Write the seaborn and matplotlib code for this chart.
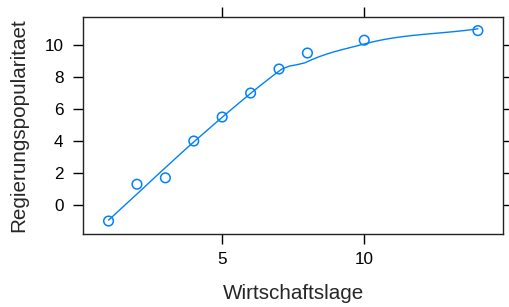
import numpy as np
import pandas as pd
import seaborn as sns
import matplotlib
matplotlib.use('Agg')
import matplotlib.pyplot as plt

# Data
wirtschaft = [1, 2, 3, 4, 5, 6, 7, 8, 10, 14]
popularitaet = [-1.0, 1.3, 1.7, 4.0, 5.5, 7.0, 8.5, 9.5, 10.3, 10.9]
x_ticks = [5, 10]
y_ticks = [0, 2, 4, 6, 8, 10]

blau = '#0080ff'


# loess smoother like lattice panel.loess (span 2/3, degree 1, symmetric),
# with R's kd-tree vertices + cubic Hermite interpolation
def lokal_fit(x, y, x0, rw, q):
    dist = np.abs(x - x0)
    d = np.sort(dist)[q - 1]
    u = np.clip(dist / d, 0, 1)
    w = (1 - u ** 3) ** 3 * rw
    X = np.column_stack([np.ones(len(x)), x - x0])
    W = np.diag(w)
    beta = np.linalg.pinv(X.T @ W @ X) @ X.T @ W @ y
    return beta[0], beta[1]


def kd_ecken(x, fc):
    xs = np.sort(x)
    mu = 0.005 * (xs[-1] - xs[0])
    ecken = {xs[0] - mu, xs[-1] + mu}

    def teile(l, u, lo, hi):
        if u - l + 1 <= fc:
            return
        m = (l + u) // 2
        v = xs[m]
        if v == lo or v == hi:
            return
        ecken.add(v)
        teile(l, m, lo, v)
        teile(m + 1, u, v, hi)

    teile(0, len(xs) - 1, ecken_min := xs[0] - mu, xs[-1] + mu)
    return np.array(sorted(ecken))


def hermite(ecken, werte, steig, xs):
    out = []
    for x0 in xs:
        j = np.clip(np.searchsorted(ecken, x0) - 1, 0, len(ecken) - 2)
        h = ecken[j + 1] - ecken[j]
        t = (x0 - ecken[j]) / h
        h00 = 2 * t ** 3 - 3 * t ** 2 + 1
        h10 = t ** 3 - 2 * t ** 2 + t
        h01 = -2 * t ** 3 + 3 * t ** 2
        h11 = t ** 3 - t ** 2
        out.append(h00 * werte[j] + h10 * h * steig[j]
                   + h01 * werte[j + 1] + h11 * h * steig[j + 1])
    return np.array(out)


def loess(x, y, xs, span=2/3, iterations=4):
    x = np.asarray(x, float)
    y = np.asarray(y, float)
    n = len(x)
    q = int(np.floor(n * span))
    fc = int(np.floor(n * span * 0.2))
    ecken = kd_ecken(x, fc)
    rob = np.ones(n)
    for it in range(iterations):
        fits = [lokal_fit(x, y, e, rob, q) for e in ecken]
        werte = np.array([f[0] for f in fits])
        steig = np.array([f[1] for f in fits])
        if it < iterations - 1:
            res = y - hermite(ecken, werte, steig, x)
            s = 6 * np.median(np.abs(res))
            u = np.clip(res / s, -1, 1)
            rob = (1 - u ** 2) ** 2
    return hermite(ecken, werte, steig, xs)


df = pd.DataFrame({'Wirtschaftslage': wirtschaft,
                   'Regierungspopularitaet': popularitaet})
xs = np.linspace(min(wirtschaft), max(wirtschaft), 50)
glatt = pd.DataFrame({'x': xs, 'y': loess(wirtschaft, popularitaet, xs)})

sns.set_style('ticks')
plt.rcParams['font.family'] = ['Liberation Sans', 'DejaVu Sans']

fig = plt.figure(figsize=(5.1, 3.07), dpi=100)
ax = fig.add_axes([0.1627, 0.2378, 0.8245, 0.7068])

sns.lineplot(data=glatt, x='x', y='y', color=blau, linewidth=1, ax=ax)
sns.scatterplot(data=df, x='Wirtschaftslage', y='Regierungspopularitaet',
                marker='o', s=48, facecolor='none', edgecolor=blau,
                linewidth=1.1, ax=ax)

ax.set_xlim(0.1, 14.9)
ax.set_ylim(-1.81, 11.75)
ax.set_xticks(x_ticks)
ax.set_yticks(y_ticks)
ax.tick_params(axis='both', direction='out', length=7.5, width=1, colors='black',
               labelsize=12.3, top=True, right=True)
ax.tick_params(axis='x', pad=5.5)
ax.tick_params(axis='y', pad=6.5)
for s in ax.spines.values():
    s.set_visible(True)
    s.set_color('#222222')
    s.set_linewidth(1)

ax.set_xlabel('Wirtschaftslage', fontsize=14.9)
ax.set_ylabel('Regierungspopularitaet', fontsize=14.9)
ax.xaxis.set_label_coords(0.5, -0.23)
ax.yaxis.set_label_coords(-0.13, 0.5)

fig.savefig('out.png', dpi=100)
